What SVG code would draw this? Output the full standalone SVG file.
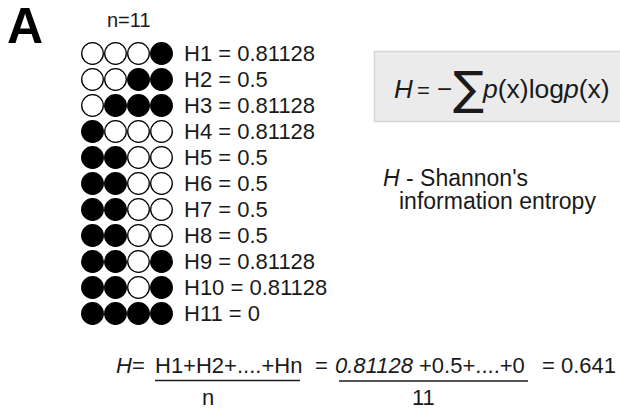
<svg xmlns="http://www.w3.org/2000/svg" width="620" height="410" viewBox="0 0 620 410">
<defs>
<style>
text{font-family:"Liberation Sans",Arial,Helvetica,sans-serif;fill:#1a1a1a;font-size:22px}
.it{font-style:italic}
.o{fill:#fff;stroke:#000;stroke-width:1.3}
.f{fill:#000;stroke:#000;stroke-width:1.3}
.rule{stroke:#1a1a1a;stroke-width:1.3}
</style>
</defs>
<rect width="620" height="410" fill="#fff"/>
<g id="label-A"><text x="7" y="43" style="font-size:50px;font-weight:bold;fill:#000">A</text></g>
<g id="n-label"><text x="107" y="27" style="font-size:20px">n=11</text></g>

<g id="row1"><circle class="o" cx="92.5" cy="53.5" r="10.8"/><circle class="o" cx="115.5" cy="53.5" r="10.8"/><circle class="o" cx="138.5" cy="53.5" r="10.8"/><circle class="f" cx="161.5" cy="53.5" r="10.8"/><text x="184" y="61">H1 = 0.81128</text></g>
<g id="row2"><circle class="o" cx="92.5" cy="79.5" r="10.8"/><circle class="o" cx="115.5" cy="79.5" r="10.8"/><circle class="f" cx="138.5" cy="79.5" r="10.8"/><circle class="f" cx="161.5" cy="79.5" r="10.8"/><text x="184" y="87">H2 = 0.5</text></g>
<g id="row3"><circle class="o" cx="92.5" cy="105.5" r="10.8"/><circle class="f" cx="115.5" cy="105.5" r="10.8"/><circle class="f" cx="138.5" cy="105.5" r="10.8"/><circle class="f" cx="161.5" cy="105.5" r="10.8"/><text x="184" y="113">H3 = 0.81128</text></g>
<g id="row4"><circle class="f" cx="92.5" cy="131.5" r="10.8"/><circle class="o" cx="115.5" cy="131.5" r="10.8"/><circle class="o" cx="138.5" cy="131.5" r="10.8"/><circle class="o" cx="161.5" cy="131.5" r="10.8"/><text x="184" y="139">H4 = 0.81128</text></g>
<g id="row5"><circle class="f" cx="92.5" cy="157.5" r="10.8"/><circle class="f" cx="115.5" cy="157.5" r="10.8"/><circle class="o" cx="138.5" cy="157.5" r="10.8"/><circle class="o" cx="161.5" cy="157.5" r="10.8"/><text x="184" y="165">H5 = 0.5</text></g>
<g id="row6"><circle class="f" cx="92.5" cy="183.5" r="10.8"/><circle class="f" cx="115.5" cy="183.5" r="10.8"/><circle class="o" cx="138.5" cy="183.5" r="10.8"/><circle class="o" cx="161.5" cy="183.5" r="10.8"/><text x="184" y="191">H6 = 0.5</text></g>
<g id="row7"><circle class="f" cx="92.5" cy="209.5" r="10.8"/><circle class="f" cx="115.5" cy="209.5" r="10.8"/><circle class="o" cx="138.5" cy="209.5" r="10.8"/><circle class="o" cx="161.5" cy="209.5" r="10.8"/><text x="184" y="217">H7 = 0.5</text></g>
<g id="row8"><circle class="f" cx="92.5" cy="235.5" r="10.8"/><circle class="f" cx="115.5" cy="235.5" r="10.8"/><circle class="o" cx="138.5" cy="235.5" r="10.8"/><circle class="o" cx="161.5" cy="235.5" r="10.8"/><text x="184" y="243">H8 = 0.5</text></g>
<g id="row9"><circle class="f" cx="92.5" cy="261.5" r="10.8"/><circle class="f" cx="115.5" cy="261.5" r="10.8"/><circle class="o" cx="138.5" cy="261.5" r="10.8"/><circle class="f" cx="161.5" cy="261.5" r="10.8"/><text x="184" y="269">H9 = 0.81128</text></g>
<g id="row10"><circle class="f" cx="92.5" cy="287.5" r="10.8"/><circle class="f" cx="115.5" cy="287.5" r="10.8"/><circle class="o" cx="138.5" cy="287.5" r="10.8"/><circle class="f" cx="161.5" cy="287.5" r="10.8"/><text x="184" y="295">H10 = 0.81128</text></g>
<g id="row11"><circle class="f" cx="92.5" cy="313.5" r="10.8"/><circle class="f" cx="115.5" cy="313.5" r="10.8"/><circle class="f" cx="138.5" cy="313.5" r="10.8"/><circle class="f" cx="161.5" cy="313.5" r="10.8"/><text x="184" y="321">H11 = 0</text></g>

<g id="formula-box">
<rect x="374.5" y="51.5" width="250" height="70" fill="#ebebeb" stroke="#d6d6d6" stroke-width="1.5"/>
<text x="394" y="98" class="it" style="font-size:26px">H</text>
<text x="417" y="98" style="font-size:22px">=</text>
<text x="437" y="98" style="font-size:26px">−</text>
<text x="453" y="104" style="font-size:46px;font-family:'DejaVu Sans',sans-serif">∑</text>
<text x="483" y="98" style="font-size:26.5px"><tspan class="it">p</tspan>(x)log<tspan class="it">p</tspan>(x)</text>
</g>

<g id="definition">
<text x="383" y="186" style="font-size:23px"><tspan class="it">H</tspan> - Shannon's</text>
<text x="399" y="209" style="font-size:23px">information entropy</text>
</g>

<g id="equation">
<text x="116" y="373"><tspan class="it">H</tspan>=</text>
<text x="155" y="373">H1+H2+....+Hn</text>
<line class="rule" x1="155" y1="380.5" x2="300" y2="380.5"/>
<text x="202" y="405">n</text>
<text x="315" y="373">=</text>
<text x="335" y="373"><tspan class="it">0.81128</tspan> +0.5+....+0</text>
<line class="rule" x1="339" y1="381" x2="528" y2="381"/>
<text x="412" y="405">11</text>
<text x="542" y="373">= 0.641</text>
</g>
<g id="connectors"/>
</svg>
